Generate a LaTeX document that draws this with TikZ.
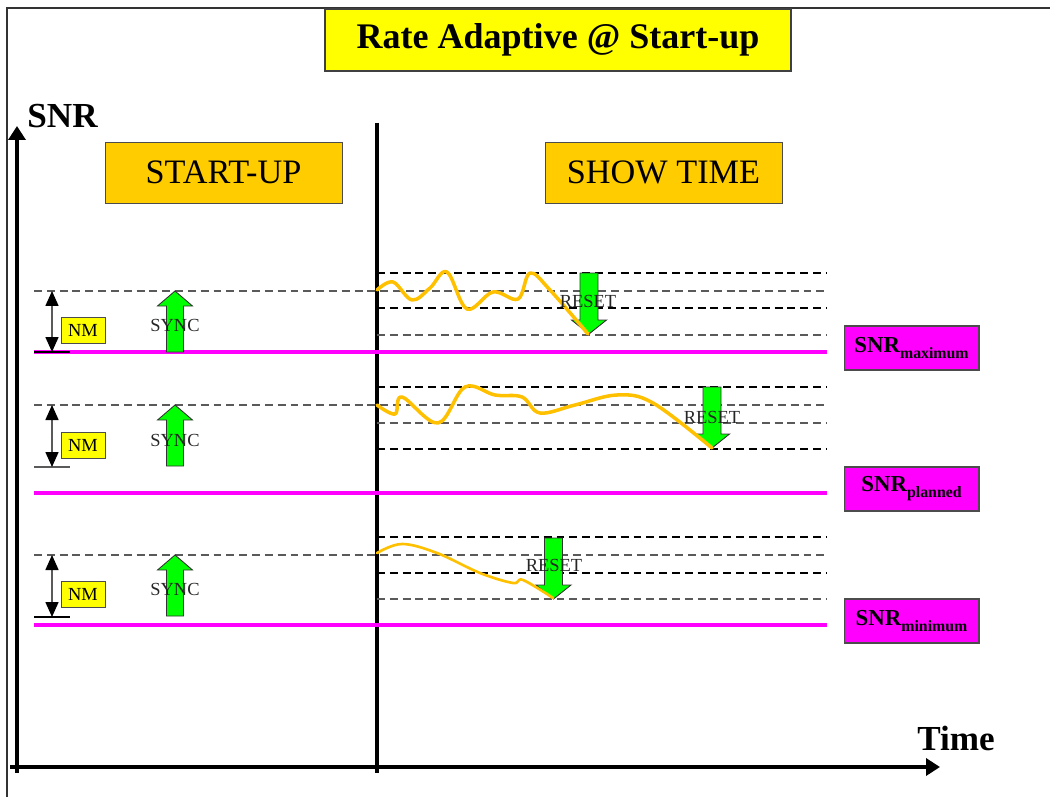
\documentclass[tikz,border=0pt]{standalone}
\usepackage{fontspec}
\setmainfont{Liberation Serif}
\usetikzlibrary{arrows.meta}
\definecolor{ttlyellow}{RGB}{255,255,0}
\definecolor{phase}{RGB}{255,204,0}
\definecolor{snrmag}{RGB}{255,0,255}
\definecolor{agreen}{RGB}{0,255,0}
\definecolor{curvey}{RGB}{255,192,0}
\definecolor{dgray}{RGB}{90,90,90}
\tikzset{
  titlebox/.style={fill=ttlyellow, draw=black!75, line width=0.9pt, minimum width=9.32cm, minimum height=1.24cm, inner sep=0pt, font=\fontsize{20.5}{24}\selectfont\bfseries},
  phasebox/.style={fill=phase, draw=black!70, line width=0.5pt, minimum width=4.74cm, minimum height=1.22cm, inner sep=0pt, font=\fontsize{19.5}{22}\selectfont},
  snrbox/.style={fill=snrmag, draw=black!70, line width=0.6pt, minimum width=2.7cm, minimum height=0.88cm, inner sep=0pt, font=\fontsize{13}{15}\selectfont\bfseries},
  nmbox/.style={fill=ttlyellow, draw=black!70, line width=0.5pt, minimum width=0.88cm, minimum height=0.52cm, inner sep=0pt, font=\fontsize{10.5}{12}\selectfont},
  smalltxt/.style={inner sep=0pt, font=\fontsize{10.5}{12}\selectfont, text=black!85},
  axislbl/.style={inner sep=0pt, font=\fontsize{20}{24}\selectfont\bfseries},
  axis/.style={line width=2.1pt, -{Triangle[width=0.34cm,length=0.28cm]}},
  divider/.style={line width=1.9pt},
  level/.style={snrmag, line width=2.1pt},
  dline/.style={dgray, line width=0.75pt, dash pattern=on 4.5pt off 2.8pt},
  dlineb/.style={black, line width=0.6pt, dash pattern=on 4.5pt off 2.8pt},
  nmarrow/.style={dgray, line width=0.9pt, {Triangle[width=0.26cm,length=0.3cm,color=black]}-{Triangle[width=0.26cm,length=0.3cm,color=black]}},
  tick/.style={line width=0.8pt},
  blockarrow/.style={fill=agreen, draw=black!80, line width=0.5pt},
  snrcurve/.style={curvey, line width=2pt, line cap=round, line join=round},
  uparr/.pic={\draw[blockarrow] (0,0) -- (17.5,15) -- (8.5,15) -- (8.5,61) -- (-8.5,61) -- (-8.5,15) -- (-17.5,15) -- cycle;},
  dnarr/.pic={\draw[blockarrow] (0,0) -- (17.5,-14) -- (9,-14) -- (9,-61) -- (-9,-61) -- (-9,-14) -- (-17.5,-14) -- cycle;}
}
\begin{document}
\begin{tikzpicture}[x=0.02cm, y=-0.02cm]
\useasboundingbox (0,0) rectangle (1050,797);
% frame
\draw[black!80, line width=0.6pt] (7,797) -- (7,8) -- (1050,8);
% title
\node[titlebox] (title) at (558,40) {Rate Adaptive @ Start-up};
% axes
\coordinate (yb) at (17,773);
\coordinate (yt) at (17,126);
\coordinate (xl) at (10,767);
\coordinate (xr) at (940,767);
\draw[axis] (yb) -- (yt);
\draw[axis] (xl) -- (xr);
\node[axislbl, anchor=base] (snr) at (62.5,128) {SNR};
\node[axislbl, anchor=base] (time) at (956,750) {Time};
\coordinate (dt) at (377,123);
\coordinate (db) at (377,773);
\draw[divider] (dt) -- (db);
% phase boxes
\node[phasebox] (startup) at (223.5,172.5) {START-UP};
\node[phasebox] (showtime) at (663.5,172.5) {SHOW TIME};

% ---------- group 1
\draw[dline] (34,291) -- (827,291);
\draw[dlineb] (377,273) -- (827,273);
\draw[dlineb] (377,308) -- (827,308);
\draw[dline] (377,335) -- (827,335);
\draw[level] (34,352) -- (827,352);
\coordinate (n1t) at (52,291);
\coordinate (n1b) at (52,352);
\draw[tick] (34,352) -- (70,352);
\draw[nmarrow] (n1t) -- (n1b);
\node[nmbox] (nm1) at (83,330.5) {NM};
\pic at (175,291) {uparr};
\node[smalltxt] (sync1) at (175,325) {SYNC};
\pic at (589,334) {dnarr};
\draw[snrcurve] plot[smooth, tension=0.6] coordinates {(377,290) (393,282) (412,300) (430,288) (447,272) (467,309) (493,292) (518,299) (530,273) (550,290) (588,334)};
\node[smalltxt] (reset1) at (588,301) {RESET};
\node[snrbox] (smax) at (911.5,348) {SNR\raisebox{-3.4pt}{\fontsize{9}{10}\selectfont maximum}};

% ---------- group 2
\draw[dline] (34,405) -- (827,405);
\draw[dlineb] (377,387) -- (827,387);
\draw[dline] (377,423) -- (827,423);
\draw[dlineb] (377,449) -- (827,449);
\draw[level] (34,493) -- (827,493);
\coordinate (n2t) at (52,405);
\coordinate (n2b) at (52,467);
\draw[tick, dgray] (34,467) -- (70,467);
\draw[nmarrow] (n2t) -- (n2b);
\node[nmbox] (nm2) at (83,445) {NM};
\pic at (175,405) {uparr};
\node[smalltxt] (sync2) at (175,440) {SYNC};
\pic at (712,448) {dnarr};
\draw[snrcurve] plot[smooth, tension=0.6] coordinates {(377,405) (395,414) (402,397) (438,423) (465,387) (495,395) (522,397) (540,413) (575,405) (617,395) (653,403) (712,448)};
\node[smalltxt] (reset2) at (712,417) {RESET};
\node[snrbox] (splan) at (911.5,489) {SNR\raisebox{-3.4pt}{\fontsize{9}{10}\selectfont planned}};

% ---------- group 3
\draw[dline] (34,555) -- (827,555);
\draw[dlineb] (377,537) -- (827,537);
\draw[dlineb] (377,573) -- (827,573);
\draw[dline] (377,599) -- (827,599);
\draw[level] (34,625) -- (827,625);
\coordinate (n3t) at (52,555);
\coordinate (n3b) at (52,617);
\draw[tick] (34,617) -- (70,617);
\draw[nmarrow] (n3t) -- (n3b);
\node[nmbox] (nm3) at (83,594.5) {NM};
\pic at (175,555) {uparr};
\node[smalltxt] (sync3) at (175,589) {SYNC};
\pic at (553.5,599) {dnarr};
\draw[snrcurve, line width=1.5pt] plot[smooth, tension=0.6] coordinates {(377,553) (402,544) (437,553) (480,573) (513,583) (523,580) (553,598)};
\node[smalltxt] (reset3) at (554,565) {RESET};
\node[snrbox] (smin) at (911.5,621) {SNR\raisebox{-3.4pt}{\fontsize{9}{10}\selectfont minimum}};
\end{tikzpicture}
\end{document}
